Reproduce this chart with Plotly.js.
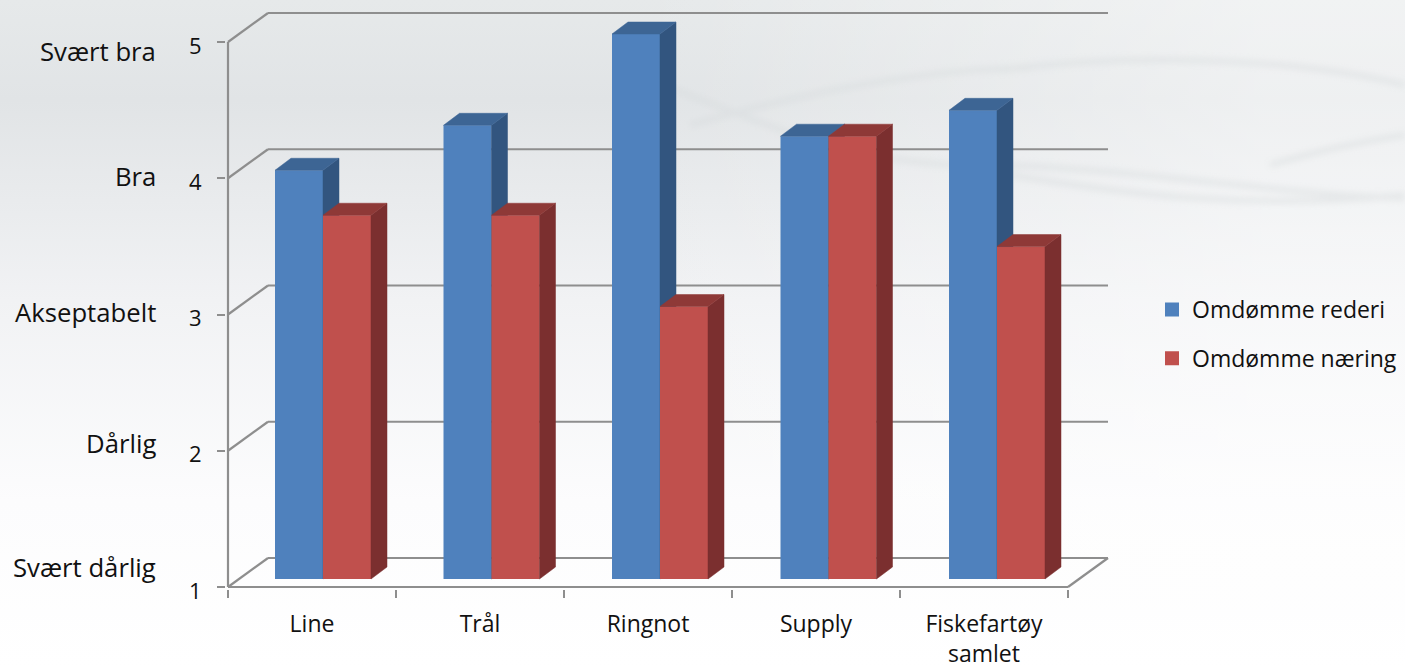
<!DOCTYPE html>
<html>
<head>
<meta charset="utf-8">
<script src="https://cdn.plot.ly/plotly-3.0.1.min.js"></script>
<style>
html,body{margin:0;padding:0;width:1405px;height:668px;overflow:hidden;background:#fff}
#bg{position:absolute;left:0;top:0;width:1405px;height:668px}
#chart{position:absolute;left:0;top:0;width:1405px;height:668px}
</style>
</head>
<body>
<svg id="bg" viewBox="0 0 1405 668" xmlns="http://www.w3.org/2000/svg">
<defs>
<linearGradient id="v" x1="0" y1="0" x2="0" y2="1">
<stop offset="0" stop-color="#e6e9ea"/><stop offset="0.15" stop-color="#e1e4e6"/>
<stop offset="0.45" stop-color="#f1f2f4"/><stop offset="0.75" stop-color="#fcfcfd"/><stop offset="1" stop-color="#ffffff"/>
</linearGradient>
<linearGradient id="h" x1="0" y1="0" x2="1" y2="0">
<stop offset="0.45" stop-color="#fff" stop-opacity="0"/><stop offset="0.9" stop-color="#fff" stop-opacity="0.45"/>
</linearGradient>
<filter id="b"><feGaussianBlur stdDeviation="3"/></filter>
</defs>
<rect width="1405" height="668" fill="url(#v)"/>
<rect width="1405" height="668" fill="url(#h)"/>
<g fill="none" stroke="#d6dadc" stroke-width="6" filter="url(#b)" opacity="0.45">
<path d="M1000 70 C1120 55 1280 55 1405 85"/>
<path d="M670 88 C770 125 860 170 1000 165 C1150 170 1280 195 1405 198"/>
<path d="M690 125 C780 100 900 70 1030 68"/>
<path d="M1010 175 C1130 195 1250 210 1405 195"/>
<path d="M1270 165 C1320 150 1370 140 1405 135"/>
</g>
</svg>
<div id="chart"></div>
<script>
const categories = ["Line", "Trål", "Ringnot", "Supply", "Fiskefartøy<br>samlet"];
const reputationOwner = [4.0, 4.33, 5.0, 4.25, 4.44];
const reputationIndustry = [3.67, 3.67, 3.0, 4.25, 3.44];
const seriesNames = ["Omdømme rederi", "Omdømme næring"];
const yTicks = [1, 2, 3, 4, 5];
const ratingLabels = ["Svært dårlig", "Dårlig", "Akseptabelt", "Bra", "Svært bra"];

// Geometry: pixel positions of the front axes and the fake-3D offsets
const FRONTAXIS = {l: 228, r: 1068, t: 42, b: 587};
const PX = (FRONTAXIS.r - FRONTAXIS.l) / categories.length;   // px per category
const PY = (FRONTAXIS.b - FRONTAXIS.t) / 4;                   // px per rating unit
const PAD = 2;
const PLOT = {l: FRONTAXIS.l - PAD, r: 1110, t: 0, b: FRONTAXIS.b + PAD};
const WALL = {dx: 40 / PX, dy: 29 / PY};
const FRONT = {dy: 8 / PY};
const DEPTH = {dx: 16 / PX, dy: 12 / PY};
const BW = 48 / PX;
const BAR0 = (275 + BW * PX - FRONTAXIS.l) / PX;   // centre between pair of first group
const STEP = 168.5 / PX;
const LINEW = 2;
const ratingLabelY = [567, 443, 312, 176, 52];
const FONT = '"Open Sans", "Noto Sans", sans-serif';
const TXT = '#111111';

const pw = PLOT.r - PLOT.l, ph = PLOT.b - PLOT.t;
const paperX = px => (px - PLOT.l) / pw;
const paperY = py => (PLOT.b - py) / ph;

const idx = categories.map((_, i) => i);
const shapes = [];
const gridColor = '#8e8e8e';
function seg(x0, y0, x1, y1) {
  shapes.push({type: 'line', layer: 'below', xref: 'x', yref: 'y', x0, y0, x1, y1,
    line: {color: gridColor, width: 2.2}});
}
const N = categories.length;
yTicks.forEach(v => {
  seg(0, v, WALL.dx, v + WALL.dy);
  seg(WALL.dx, v + WALL.dy, N + WALL.dx, v + WALL.dy);
});
seg(N, 1, N + WALL.dx, 1 + WALL.dy);
seg(0, 1, N, 1);   // front x axis line
seg(0, 1, 0, 5);   // front y axis line

function seriesTraces(values, side, name, colors, ax) {
  const xa = ax === 1 ? 'x' : 'x2', ya = ax === 1 ? 'y' : 'y2';
  const left = i => BAR0 + STEP * i + (side < 0 ? -BW : 0);
  const lw = LINEW / PX / 2, lh = LINEW / PY / 2;
  const out = [{
    type: 'bar', name, legendgroup: name, x: idx.map(i => left(i) + BW / 2),
    y: values.map(v => v - 1 - 2 * lh),
    base: values.map(() => 1 + FRONT.dy + lh),
    width: BW - 2 * lw, xaxis: xa, yaxis: ya,
    marker: {color: colors.front, line: {color: colors.front, width: LINEW}},
    hoverinfo: 'skip'
  }];
  // side and top faces computed from the same values
  const sx = [], sy = [], tx = [], ty = [];
  values.forEach((v, i) => {
    const r = left(i) + BW, l = left(i), top = v + FRONT.dy, bot = 1 + FRONT.dy;
    sx.push(r, r + DEPTH.dx, r + DEPTH.dx, r, r, null);
    sy.push(bot, bot + DEPTH.dy, top + DEPTH.dy, top, bot, null);
    tx.push(l, l + DEPTH.dx, r + DEPTH.dx, r, l, null);
    ty.push(top, top + DEPTH.dy, top + DEPTH.dy, top, top, null);
  });
  [[sx, sy, colors.side], [tx, ty, colors.top]].forEach(([x, y, c]) => out.push({
    type: 'scatter', mode: 'lines', x, y, xaxis: xa, yaxis: ya, fill: 'toself', fillcolor: c,
    line: {color: c, width: 0.5}, showlegend: false, hoverinfo: 'skip'
  }));
  return out;
}

const traces = [
  ...seriesTraces(reputationOwner, -1, seriesNames[0], {front: '#4f81bd', side: '#32557f', top: '#3d6594'}, 1),
  ...seriesTraces(reputationIndustry, 1, seriesNames[1], {front: '#c0504d', side: '#7b2f2f', top: '#8e3937'}, 2)
];

const annotations = ratingLabels.map((t, i) => ({
  text: t, xref: 'paper', yref: 'paper', showarrow: false,
  x: paperX(158), xanchor: 'right', y: paperY(ratingLabelY[i]), yanchor: 'middle',
  font: {family: FONT, size: 25.7, color: TXT}
}));

const xRange = [-PAD / PX, (PLOT.r - FRONTAXIS.l) / PX];
const yRange = [1 - PAD / PY, 1 + (FRONTAXIS.b - PLOT.t) / PY];

const layout = {
  width: 1405, height: 668,
  margin: {l: PLOT.l, r: 1405 - PLOT.r, t: PLOT.t, b: 668 - PLOT.b, pad: 0},
  paper_bgcolor: 'rgba(0,0,0,0)', plot_bgcolor: 'rgba(0,0,0,0)',
  barmode: 'overlay', showlegend: true, shapes, annotations,
  xaxis: {
    range: xRange, fixedrange: true, showgrid: false, zeroline: false, showline: false,
    tickmode: 'array', tickvals: idx.map(i => i + 0.5), ticktext: categories,
    ticks: 'outside', ticklen: 0, ticklabelstandoff: 14,
    tickfont: {family: FONT, size: 23, color: TXT},
    minor: {tickmode: 'array', tickvals: [0, 1, 2, 3, 4, 5], ticks: 'outside', ticklen: 8, tickwidth: 2, tickcolor: gridColor, showgrid: false}
  },
  yaxis: {
    range: yRange, fixedrange: true, showgrid: false, zeroline: false, showline: false,
    tickmode: 'array', tickvals: yTicks, ticks: 'outside', ticklen: 8, tickwidth: 2, tickcolor: gridColor,
    ticklabelstandoff: 11, ticklabelshift: 4,
    tickfont: {family: FONT, size: 22, color: TXT}
  },
  xaxis2: {range: xRange, overlaying: 'x', visible: false, fixedrange: true},
  yaxis2: {range: yRange, overlaying: 'y', visible: false, fixedrange: true},
  legend: {
    x: paperX(1152), xanchor: 'left', y: paperY(334), yanchor: 'middle',
    bgcolor: 'rgba(0,0,0,0)', tracegroupgap: 16,
    font: {family: FONT, size: 23, color: TXT}
  }
};
Plotly.newPlot('chart', traces, layout, {displayModeBar: false, staticPlot: true});
</script>
</body>
</html>
